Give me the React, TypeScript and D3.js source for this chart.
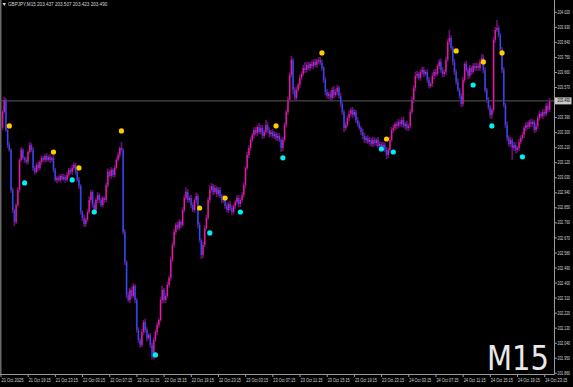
import React from "react";
import * as d3 from "d3";

const W = 573;
const H = 387;

const firstOpen = 203.33;
const closes = [
  203.424, 203.496, 203.316, 203.226, 203.196, 202.957, 202.837, 202.766, 202.867, 202.957,
  203.137, 203.196, 203.148, 203.137, 203.125, 203.184, 203.226, 203.196, 203.089, 203.065,
  203.107, 203.089, 203.125, 203.148, 203.137, 203.160, 203.137, 203.154, 203.137, 203.148,
  203.077, 203.017, 203.029, 203.017, 203.041, 203.023, 203.035, 203.017, 203.047, 203.077,
  203.065, 203.089, 203.107, 203.065, 203.017, 202.981, 202.825, 202.790, 202.754, 202.778,
  202.825, 202.897, 202.945, 202.867, 202.837, 202.897, 202.927, 202.897, 202.867, 202.909,
  202.897, 202.987, 203.065, 203.041, 203.077, 203.047, 203.089, 203.137, 203.166, 203.208,
  203.196, 202.706, 202.526, 202.329, 202.299, 202.359, 202.323, 202.383, 202.299, 202.119,
  202.059, 202.029, 202.107, 202.167, 202.119, 202.071, 202.089, 202.029, 201.958, 202.059,
  202.107, 202.149, 202.179, 202.299, 202.359, 202.299, 202.323, 202.389, 202.431, 202.538,
  202.628, 202.706, 202.748, 202.730, 202.766, 202.748, 202.837, 202.909, 202.945, 202.897,
  202.909, 202.867, 202.837, 202.897, 202.921, 202.748, 202.658, 202.568, 202.628, 202.730,
  202.790, 202.897, 202.957, 202.981, 202.945, 202.969, 202.933, 202.957, 202.921, 202.897,
  202.909, 202.861, 202.837, 202.873, 202.849, 202.825, 202.861, 202.885, 202.909, 202.873,
  202.897, 202.927, 202.987, 203.089, 203.166, 203.208, 203.256, 203.286, 203.316, 203.298,
  203.334, 203.304, 203.328, 203.280, 203.304, 203.346, 203.316, 203.292, 203.304, 203.280,
  203.292, 203.268, 203.280, 203.256, 203.208, 203.256, 203.346, 203.424, 203.496, 203.645,
  203.735, 203.556, 203.508, 203.556, 203.586, 203.628, 203.651, 203.687, 203.675, 203.705,
  203.687, 203.711, 203.699, 203.723, 203.705, 203.729, 203.735, 203.717, 203.687, 203.616,
  203.544, 203.520, 203.532, 203.508, 203.556, 203.526, 203.544, 203.568, 203.520, 203.472,
  203.424, 203.328, 203.346, 203.388, 203.412, 203.436, 203.406, 203.424, 203.376, 203.352,
  203.328, 203.304, 203.280, 203.256, 203.268, 203.244, 203.256, 203.232, 203.256, 203.238,
  203.256, 203.220, 203.232, 203.214, 203.226, 203.196, 203.166, 203.196, 203.256, 203.316,
  203.328, 203.352, 203.340, 203.364, 203.352, 203.376, 203.340, 203.352, 203.328, 203.340,
  203.424, 203.496, 203.568, 203.640, 203.651, 203.628, 203.663, 203.675, 203.651, 203.663,
  203.616, 203.580, 203.592, 203.640, 203.663, 203.651, 203.699, 203.723, 203.675, 203.651,
  203.663, 203.735, 203.843, 203.867, 203.807, 203.723, 203.663, 203.604, 203.556, 203.520,
  203.472, 203.616, 203.711, 203.675, 203.640, 203.687, 203.663, 203.699, 203.687, 203.699,
  203.687, 203.723, 203.747, 203.675, 203.556, 203.496, 203.448, 203.406, 203.436, 203.855,
  203.914, 203.926, 203.884, 203.795, 203.675, 203.466, 203.346, 203.268, 203.232, 203.256,
  203.208, 203.226, 203.196, 203.208, 203.244, 203.268, 203.286, 203.328, 203.346, 203.334,
  203.364, 203.352, 203.364, 203.316, 203.340, 203.388, 203.412, 203.400, 203.424, 203.412,
  203.460, 203.437, 203.490,
];

// wick lengths beyond the body, in thousandths of a yen
const wickUp = [
  12, 18, 10, 8, 16, 10, 14, 8, 10, 16, 10, 18, 12, 10, 16, 10, 20, 12, 16, 10,
  12, 18, 10, 16, 12, 10, 18, 12, 16, 10, 20, 12, 10, 16, 10, 12, 18, 10, 16, 12,
  10, 18, 16, 12, 10, 16, 12, 10, 18, 12, 16, 20, 12, 10, 16, 12, 18, 10, 16, 12,
  10, 16, 20, 12, 16, 10, 18, 12, 16, 10, 36, 12, 16, 10, 18, 12, 20, 16, 10, 12,
  16, 10, 18, 12, 20, 16, 10, 12, 16, 18, 12, 16, 10, 20, 26, 12, 16, 18, 12, 20,
  16, 18, 12, 20, 16, 10, 18, 20, 28, 16, 12, 18, 16, 10, 20, 12, 16, 10, 18, 16,
  20, 16, 28, 18, 12, 16, 10, 18, 16, 12, 20, 10, 16, 12, 18, 16, 10, 12, 18, 16,
  12, 18, 16, 12, 20, 16, 18, 12, 16, 20, 12, 24, 18, 16, 12, 30, 18, 16, 12, 18,
  16, 12, 18, 16, 10, 18, 16, 12, 20, 16, 24, 12, 16, 18, 12, 20, 16, 18, 36, 16,
  18, 12, 20, 16, 18, 12, 16, 18, 20, 12, 16, 18, 12, 20, 16, 24, 18, 16, 12, 18,
  16, 12, 18, 16, 20, 12, 18, 16, 12, 18, 16, 12, 20, 18, 12, 16, 18, 12, 20, 16,
  12, 18, 16, 12, 20, 16, 18, 12, 16, 18, 20, 12, 16, 18, 12, 16, 20, 12, 18, 16,
  18, 20, 16, 24, 18, 12, 16, 20, 18, 12, 16, 18, 12, 20, 16, 18, 12, 16, 20, 18,
  16, 20, 18, 48, 16, 12, 18, 16, 20, 12, 16, 18, 12, 20, 16, 18, 12, 16, 18, 20,
  16, 18, 24, 20, 16, 12, 18, 16, 12, 20, 18, 48, 16, 12, 18, 16, 12, 20, 16, 18,
  12, 16, 18, 12, 20, 16, 18, 12, 16, 20, 12, 18, 16, 12, 18, 16, 20, 12, 18, 16,
  16, 20, 17,
];
const wickDn = [
  16, 10, 12, 18, 10, 16, 18, 24, 12, 10, 16, 12, 10, 18, 12, 16, 10, 12, 18, 16,
  10, 16, 12, 18, 10, 16, 12, 10, 18, 12, 16, 10, 18, 12, 16, 10, 12, 18, 10, 16,
  12, 18, 10, 16, 12, 18, 16, 20, 18, 16, 12, 10, 18, 16, 20, 12, 16, 18, 12, 16,
  18, 12, 16, 10, 18, 12, 16, 10, 12, 18, 10, 16, 18, 20, 12, 18, 16, 12, 20, 16,
  18, 16, 12, 18, 16, 20, 12, 18, 14, 16, 12, 18, 16, 12, 20, 16, 18, 12, 16, 18,
  12, 16, 18, 12, 16, 20, 12, 16, 10, 18, 16, 20, 12, 16, 18, 22, 16, 24, 18, 12,
  16, 12, 18, 16, 20, 12, 18, 16, 12, 18, 20, 16, 12, 18, 16, 20, 12, 18, 16, 20,
  18, 12, 16, 20, 12, 18, 16, 12, 18, 16, 20, 12, 16, 18, 12, 16, 18, 20, 16, 12,
  18, 16, 20, 12, 24, 18, 12, 16, 18, 12, 16, 28, 18, 16, 12, 18, 16, 12, 18, 16,
  12, 18, 16, 20, 12, 16, 18, 12, 16, 18, 20, 16, 18, 12, 16, 20, 12, 18, 16, 20,
  18, 26, 16, 12, 18, 16, 20, 12, 18, 16, 12, 18, 20, 16, 18, 12, 20, 16, 18, 16,
  18, 12, 20, 16, 18, 12, 24, 18, 16, 12, 18, 16, 20, 12, 16, 18, 12, 20, 16, 18,
  16, 12, 18, 20, 16, 12, 18, 16, 20, 12, 18, 16, 12, 18, 20, 16, 12, 18, 16, 20,
  18, 16, 12, 18, 16, 20, 18, 16, 12, 18, 20, 16, 18, 12, 20, 16, 18, 12, 16, 18,
  16, 18, 12, 20, 16, 18, 12, 20, 24, 16, 18, 12, 16, 18, 20, 16, 18, 20, 16, 18,
  71, 18, 20, 16, 18, 12, 16, 18, 20, 16, 12, 18, 16, 20, 12, 18, 16, 12, 18, 16,
  12, 18, 14,
];

const yellowBars = [4, 30, 45, 70, 116, 131, 161, 188, 226, 267, 283, 294];
const yellowPrices = [203.34, 203.184, 203.089, 203.31, 202.849, 202.909, 203.34, 203.777, 203.262, 203.789, 203.723, 203.777];
const cyanBars = [13, 41, 54, 90, 122, 140, 165, 223, 230, 277, 288, 306];
const cyanPrices = [202.999, 203.017, 202.825, 201.97, 202.7, 202.825, 203.149, 203.202, 203.184, 203.585, 203.34, 203.155];

const priceTicks = [
  204.02, 203.93, 203.84, 203.75, 203.66, 203.57, 203.48, 203.39, 203.3, 203.21, 203.12, 203.03,
  202.94, 202.85, 202.76, 202.67, 202.58, 202.49, 202.4, 202.31, 202.22, 202.13, 202.04, 201.95, 201.86,
];
const timeLabels = [
  "21 Oct 2025", "21 Oct 19:15", "21 Oct 23:15", "22 Oct 03:15", "22 Oct 07:15", "22 Oct 11:15",
  "22 Oct 15:15", "22 Oct 19:15", "22 Oct 23:15", "23 Oct 03:15", "23 Oct 07:15", "23 Oct 11:15",
  "23 Oct 15:15", "23 Oct 19:15", "23 Oct 23:15", "24 Oct 03:15", "24 Oct 07:15", "24 Oct 11:15",
  "24 Oct 15:15", "24 Oct 19:15", "24 Oct 23:15",
];
const timeLabelBars = timeLabels.map((_, i) => i * 16);

const symbol = "GBPJPY,M15";
const ohlc = [203.437, 203.507, 203.423, 203.49];
const lastPrice = 203.49;

const UP = "#ec179f";
const DOWN = "#1c52ff";
const WICK = "#64106c";

export default function App() {
  const plotRight = 554.5;
  const plotBottom = 374.5;
  const x = d3.scaleLinear().domain([0, closes.length - 1]).range([2.5, 549.6]);
  const y = d3.scaleLinear().domain([201.86, 204.02]).range([373.3, 12.3]);

  const candles = closes.map((c, i) => {
    const o = i === 0 ? firstOpen : closes[i - 1];
    const hi = Math.max(o, c) + wickUp[i] / 1000;
    const lo = Math.min(o, c) - wickDn[i] / 1000;
    return { i, o, c, hi, lo };
  });

  const font = "'Liberation Sans', Arial, sans-serif";

  return (
    <svg width={W} height={H} style={{ position: "absolute", left: 0, top: 0, background: "#000" }}>
      <rect x={0} y={0} width={W} height={H} fill="#000" />
      <line x1={0.75} x2={0.75} y1={0} y2={plotBottom} stroke="#6a6a6a" strokeWidth={1.5} />
      <line x1={0} x2={plotRight} y1={y(lastPrice)} y2={y(lastPrice)} stroke="#5a5a5a" strokeWidth={1} />
      <g>
        {candles.map((d) => (
          <line key={"w" + d.i} x1={x(d.i)} x2={x(d.i)} y1={y(d.hi)} y2={y(d.lo)} stroke={WICK} strokeWidth={1.7} />
        ))}
      </g>
      <g>
        {candles.map((d) => {
          const top = y(Math.max(d.o, d.c));
          const bot = y(Math.min(d.o, d.c));
          const h = Math.max(1, bot - top);
          const col = d.c > d.o ? UP : d.c < d.o ? DOWN : "#1fa31f";
          return <rect key={"b" + d.i} x={x(d.i) - 0.6} y={top} width={1.3} height={h} fill={col} />;
        })}
      </g>
      {yellowBars.map((b, k) => (
        <circle key={"y" + k} cx={x(b)} cy={y(yellowPrices[k])} r={2.6} fill="#ffcc00" />
      ))}
      {cyanBars.map((b, k) => (
        <circle key={"c" + k} cx={x(b)} cy={y(cyanPrices[k])} r={2.6} fill="#00f0f0" />
      ))}
      <line x1={plotRight} x2={plotRight} y1={0} y2={plotBottom} stroke="#9a9a9a" strokeWidth={1} />
      <line x1={0} x2={plotRight} y1={plotBottom} y2={plotBottom} stroke="#9a9a9a" strokeWidth={1} />
      {priceTicks.map((p) => (
        <g key={"p" + p}>
          <line x1={plotRight} x2={plotRight + 2.5} y1={y(p)} y2={y(p)} stroke="#9a9a9a" />
          {Math.abs(y(p) - y(lastPrice)) > 5 && (
            <text x={557.5} y={y(p) + 1.6} fontSize={4.5} fill="#d8d8d8" fontFamily={font} textLength={12.5} lengthAdjust="spacingAndGlyphs">
              {p.toFixed(3)}
            </text>
          )}
        </g>
      ))}
      <rect x={plotRight + 0.5} y={y(lastPrice) - 3.5} width={16.5} height={7} fill="#c8c8c8" />
      <text x={557.5} y={y(lastPrice) + 1.6} fontSize={4.5} fill="#000" fontFamily={font} textLength={12.5} lengthAdjust="spacingAndGlyphs">
        {lastPrice.toFixed(3)}
      </text>
      {timeLabelBars.map((b, k) => (
        <g key={"t" + k}>
          <line x1={x(b) - 1.5} x2={x(b) - 1.5} y1={plotBottom} y2={plotBottom + 2.5} stroke="#9a9a9a" />
          <text x={x(b) - 1} y={381.8} fontSize={4.5} fill="#d8d8d8" fontFamily={font} textLength={22} lengthAdjust="spacingAndGlyphs">
            {timeLabels[k]}
          </text>
        </g>
      ))}
      <path d="M2.5,3 L6,3 L4.25,6 Z" fill="#d8d8d8" />
      <text x={8} y={6.3} fontSize={4.6} fill="#d8d8d8" fontFamily={font}>
        {symbol + "  " + ohlc.map((v) => v.toFixed(3)).join(" ")}
      </text>
      <text x={487} y={370} fontSize={34} fill="#e8e8e8" fontFamily="'Liberation Sans Narrow', 'Arial Narrow', 'DejaVu Sans Condensed', sans-serif" textLength={62} lengthAdjust="spacingAndGlyphs">
        M15
      </text>
    </svg>
  );
}
